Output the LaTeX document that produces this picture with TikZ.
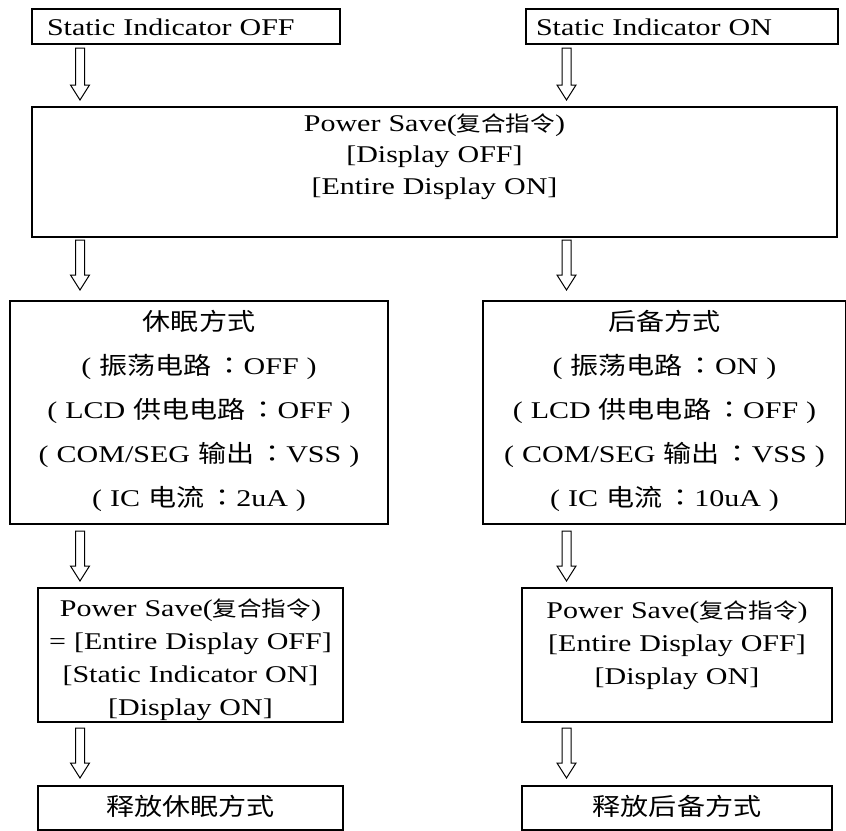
\documentclass[tikz,border=0pt]{standalone}
\usepackage{fontspec}
\setmainfont{Liberation Serif}[FakeStretch=1.25]
\newfontfamily\cjk{Noto Sans CJK SC}[FakeStretch=1.17]
\newfontfamily\cjksm{Noto Sans CJK SC}[FakeStretch=1.17, Scale=0.875]
\newfontfamily\cjktc{Noto Sans CJK TC}[FakeStretch=1.17]
\usetikzlibrary{calc}
\newcommand\colonz{\,{\cjktc ：}}
\newcommand\hollowarrow[2]{%
  \draw[harrow] ($(#1)+(-4.5,0)$) -- ($(#2)+(-4.5,-15)$) -- ($(#2)+(-9.5,-15)$)
    -- (#2) -- ($(#2)+(9.5,-15)$) -- ($(#2)+(4.5,-15)$) -- ($(#1)+(4.5,0)$) -- cycle;}
\begin{document}
\begin{tikzpicture}[x=1pt,y=-1pt,
  boxnode/.style={draw, line width=2pt, inner sep=0pt, anchor=north west, align=center},
  harrow/.style={draw, line width=1pt, fill=white},
  fsmall/.style={font=\fontsize{24}{31.5}\selectfont},
  fmode/.style={font=\fontsize{24}{44}\selectfont},
  fps/.style={font=\fontsize{24}{33}\selectfont}]
\fill[white] (0,0) rectangle (846,830);
\useasboundingbox (0,0) rectangle (846,830);

% top boxes
\node[boxnode, fsmall, align=left, inner xsep=15pt, text width=278pt, text height=26pt, text depth=9pt]
  (b1) at (31,8) {Static Indicator OFF};
\node[boxnode, fsmall, align=left, inner xsep=10pt, text width=292pt, text height=26pt, text depth=9pt]
  (b2) at (525,8) {Static Indicator ON};

% main box
\node[boxnode, fsmall, text width=805pt, text height=24pt, text depth=106pt]
  (main) at (31,106) {Power Save({\cjksm 复合指令})\\{}[Display OFF]\\{}[Entire Display ON]};

% mode boxes
\node[boxnode, fmode, text width=378pt, text height=29pt, text depth=194pt]
  (m1) at (9,300) {{\cjk 休眠方式}\\( {\cjk 振荡电路}\colonz OFF )\\( LCD {\cjk 供电电路}\colonz OFF )\\( COM/SEG {\cjk 输出}\colonz VSS )\\( IC {\cjk 电流}\colonz 2uA )};
\node[boxnode, fmode, text width=363pt, text height=29pt, text depth=194pt]
  (m2) at (482,300) {{\cjk 后备方式}\\( {\cjk 振荡电路}\colonz ON )\\( LCD {\cjk 供电电路}\colonz OFF )\\( COM/SEG {\cjk 输出}\colonz VSS )\\( IC {\cjk 电流}\colonz 10uA )};

% power save boxes
\node[boxnode, fps, text width=305pt, text height=28pt, text depth=106pt]
  (p1) at (37,587) {Power Save({\cjksm 复合指令})\\= [Entire Display OFF]\\{}[Static Indicator ON]\\{}[Display ON]};
\node[boxnode, fps, text width=310pt, text height=30pt, text depth=104pt]
  (p2) at (521,587) {Power Save({\cjksm 复合指令})\\{}[Entire Display OFF]\\{}[Display ON]};

% release boxes
\node[boxnode, fps, text width=305pt, text height=29pt, text depth=15pt]
  (r1) at (37,785) {{\cjk 释放休眠方式}};
\node[boxnode, fps, text width=310pt, text height=29pt, text depth=15pt]
  (r2) at (521,785) {{\cjk 释放后备方式}};

% arrow end points
\coordinate (a1s) at (80,48);   \coordinate (a1e) at (80,100);
\coordinate (a2s) at (566.5,48);  \coordinate (a2e) at (566.5,100);
\coordinate (a3s) at (80,240);  \coordinate (a3e) at (80,290);
\coordinate (a4s) at (566.5,240); \coordinate (a4e) at (566.5,290);
\coordinate (a5s) at (80,531);  \coordinate (a5e) at (80,581);
\coordinate (a6s) at (566.5,531); \coordinate (a6e) at (566.5,581);
\coordinate (a7s) at (80,728);  \coordinate (a7e) at (80,778);
\coordinate (a8s) at (566.5,728); \coordinate (a8e) at (566.5,778);

\hollowarrow{a1s}{a1e}
\hollowarrow{a2s}{a2e}
\hollowarrow{a3s}{a3e}
\hollowarrow{a4s}{a4e}
\hollowarrow{a5s}{a5e}
\hollowarrow{a6s}{a6e}
\hollowarrow{a7s}{a7e}
\hollowarrow{a8s}{a8e}
\end{tikzpicture}
\end{document}
